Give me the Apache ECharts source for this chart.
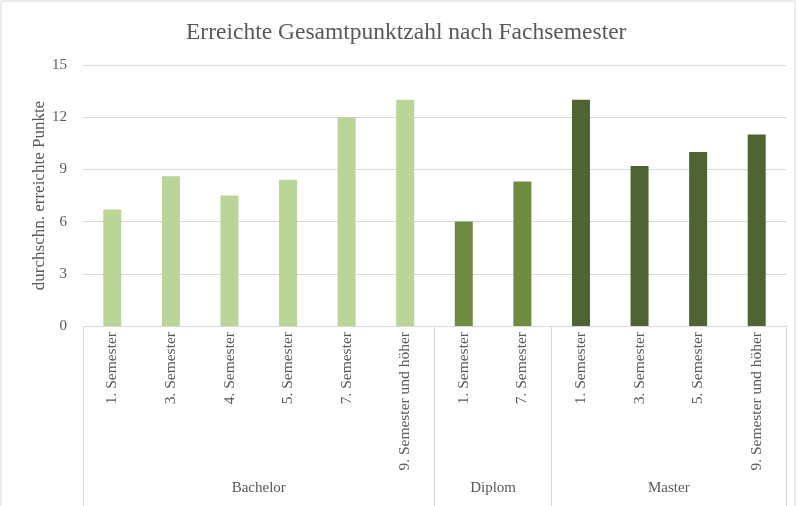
<!DOCTYPE html>
<html>
<head>
<meta charset="utf-8">
<script src="https://cdn.jsdelivr.net/npm/echarts@6/dist/echarts.min.js"></script>
<style>
  html, body { margin: 0; padding: 0; background: #fff; }
  #chart { width: 797px; height: 506px; }
</style>
</head>
<body>
<div id="chart"></div>
<script>
// Studiengänge und ihre Fachsemester
var groups = ['Bachelor', 'Diplom', 'Master'];
var bachelorCats = ['1. Semester', '3. Semester', '4. Semester', '5. Semester', '7. Semester', '9. Semester und höher'];
var diplomCats = ['1. Semester', '7. Semester'];
var masterCats = ['1. Semester', '3. Semester', '5. Semester', '9. Semester und höher'];

// durchschn. erreichte Punkte
var bachelorVals = [6.7, 8.6, 7.5, 8.4, 12.0, 13.0];
var diplomVals = [6.0, 8.3];
var masterVals = [13.0, 9.2, 10.0, 11.0];

var yTicks = [0, 3, 6, 9, 12, 15];

var groupColors = ['#b9d597', '#6f8c42', '#4f6335'];
var font = '"Liberation Serif", "Times New Roman", serif';
var grey = '#595959';

var catList = [], barData = [], bounds = [0], centers = [];
[[bachelorCats, bachelorVals], [diplomCats, diplomVals], [masterCats, masterVals]].forEach(function (g, gi) {
    var start = catList.length;
    for (var i = 0; i < g[0].length; i++) {
        catList.push(g[0][i]);
        barData.push({ value: g[1][i], itemStyle: { color: groupColors[gi] } });
    }
    bounds.push(catList.length);
    centers.push((start + catList.length) / 2);
});

var chart = echarts.init(document.getElementById('chart'));
chart.setOption({
    animation: false,
    title: {
        text: 'Erreichte Gesamtpunktzahl nach Fachsemester',
        left: 181,
        top: 16,
        textStyle: { fontFamily: font, fontSize: 23.5, fontWeight: 'normal', color: grey }
    },
    graphic: [{
        type: 'rect',
        shape: { x: 1, y: 1, width: 794, height: 520 },
        style: { fill: 'none', stroke: '#d9d9d9', lineWidth: 1 },
        silent: true
    }],
    grid: { left: 83, right: 11, top: 65, bottom: 180 },
    xAxis: [{
        type: 'category',
        data: catList,
        axisLine: { lineStyle: { color: '#d9d9d9' } },
        axisTick: { show: false },
        axisLabel: { rotate: 90, interval: 0, margin: 6, fontFamily: font, fontSize: 15.5, color: grey }
    }, {
        type: 'value',
        position: 'bottom',
        min: 0,
        max: catList.length,
        axisLine: { show: false },
        splitLine: { show: false },
        axisTick: {
            show: true,
            customValues: bounds,
            length: 190,
            lineStyle: { color: '#d9d9d9' }
        },
        axisLabel: {
            customValues: centers,
            margin: 155,
            fontFamily: font,
            fontSize: 15,
            color: grey,
            formatter: function (v) {
                return groups[centers.indexOf(v)];
            }
        }
    }],
    yAxis: {
        type: 'value',
        min: yTicks[0],
        max: yTicks[yTicks.length - 1],
        interval: 3,
        name: 'durchschn. erreichte Punkte',
        nameLocation: 'middle',
        nameGap: 35,
        nameMoveOverlap: false,
        nameTextStyle: { fontFamily: font, fontSize: 17, color: grey },
        axisLine: { show: false },
        axisTick: { show: false },
        axisLabel: { margin: 16, fontFamily: font, fontSize: 15, color: grey },
        splitLine: { lineStyle: { color: '#d9d9d9' } }
    },
    series: [{
        type: 'bar',
        data: barData,
        barWidth: 18,
        xAxisIndex: 0
    }]
});
</script>
</body>
</html>
